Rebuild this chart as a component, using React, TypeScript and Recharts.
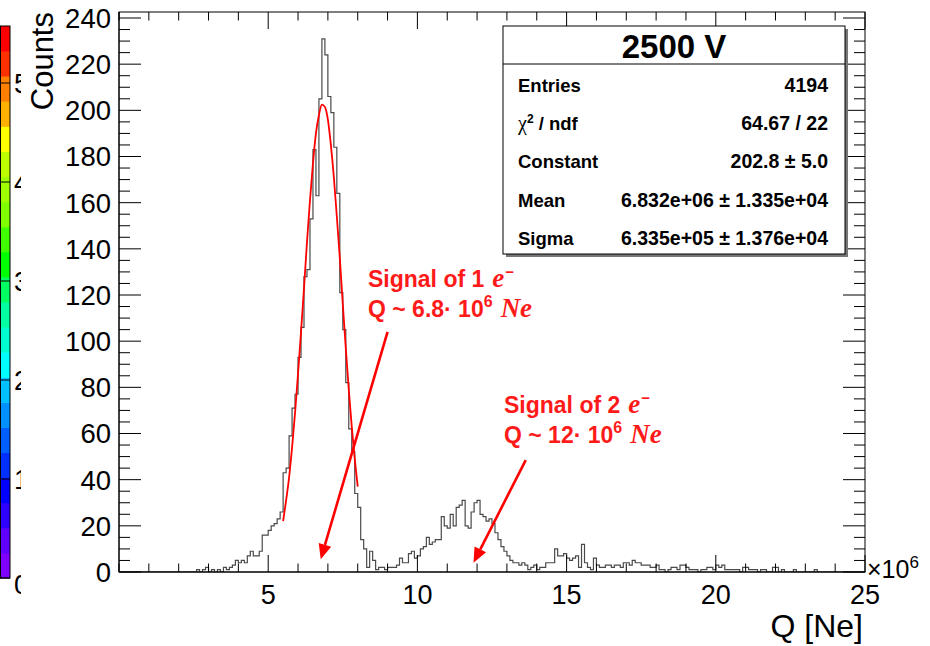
import React from 'react';
import { ComposedChart, Line, XAxis, YAxis, ReferenceLine } from 'recharts';

const W = 930;
const H = 646;
const PLOT_LEFT = 119;
const PLOT_RIGHT = 865;
const PLOT_TOP = 12;
const PLOT_BOTTOM = 572;

const Q_MAX = 25;
const COUNTS_MAX = 242.6;
const BIN_WIDTH = 0.1; // in units of 10^6 Ne

// histogram counts, 250 bins of 0.1e6 Ne from 0 to 25e6
const binCounts = [
  0, 0, 0, 0, 0, 0, 0, 0, 0, 0,
  0, 0, 0, 0, 0, 0, 0, 0, 0, 0,
  0, 0, 0, 0, 0, 0, 1, 0, 1, 2,
  0, 1, 0, 1, 0, 2, 1, 2, 3, 5,
  4, 5, 4, 7, 9, 7, 7, 9, 16, 16,
  18, 20, 21, 23, 26, 43, 45, 59, 71, 77,
  93, 106, 128, 131, 153, 183, 163, 205, 231, 224,
  206, 199, 184, 164, 121, 105, 82, 62, 52, 34,
  28, 14, 10, 2, 9, 5, 1, 2, 2, 1,
  2, 2, 2, 3, 6, 4, 4, 8, 9, 6,
  7, 10, 11, 15, 12, 13, 14, 14, 24, 20,
  19, 25, 20, 28, 29, 31, 20, 19, 26, 30,
  31, 25, 24, 22, 23, 21, 17, 14, 11, 9,
  7, 5, 4, 4, 3, 4, 3, 1, 2, 3,
  1, 2, 2, 4, 4, 4, 10, 7, 7, 8,
  6, 5, 6, 7, 2, 12, 4, 2, 1, 6,
  3, 2, 2, 3, 3, 2, 3, 3, 2, 4,
  4, 3, 5, 4, 4, 3, 3, 3, 2, 2,
  3, 1, 1, 0, 1, 2, 2, 1, 3, 3,
  2, 1, 1, 1, 0, 1, 1, 2, 2, 1,
  3, 2, 3, 1, 1, 1, 1, 1, 0, 2,
  2, 1, 1, 1, 0, 1, 1, 0, 0, 2,
  2, 0, 1, 0, 0, 0, 1, 0, 0, 0,
  0, 0, 0, 1, 0, 0, 0, 0, 0, 0,
  0, 0, 0, 0, 0, 0, 0, 0, 0, 0,
];

// gaus fit curve
const fitQ = [5.5, 5.6, 5.7, 5.8, 5.9, 6.0, 6.1, 6.2, 6.3, 6.4, 6.5, 6.6, 6.7, 6.8, 6.9, 7.0, 7.1, 7.2, 7.3, 7.4, 7.5, 7.6, 7.7, 7.8, 7.9, 8.0];
const fitCounts = [22, 31, 41, 54, 69, 86, 104, 123, 143, 161, 177, 190, 198, 202.5, 201.5, 196, 185, 171, 154, 136, 116, 97, 79, 63, 49, 37];

const xMajorTicks = [5, 10, 15, 20, 25];
const yMajorTicks = [0, 20, 40, 60, 80, 100, 120, 140, 160, 180, 200, 220, 240];
const paletteLabels = ['0', '1', '2', '3', '4', '5'];

const statsTitle = '2500 V';
const statsRows = [
  { label: 'Entries', value: '4194' },
  { label: 'chi', value: '64.67 / 22' },
  { label: 'Constant', value: '202.8 \u00b1 5.0' },
  { label: 'Mean', value: '6.832e+06 \u00b1 1.335e+04' },
  { label: 'Sigma', value: '6.335e+05 \u00b1 1.376e+04' },
];

const arrows = [
  { from: { q: 9.0, counts: 104 }, to: { q: 6.76, counts: 5.5 } },
  { from: { q: 13.63, counts: 48.5 }, to: { q: 11.88, counts: 4 } },
];

// rainbow palette, bottom to top
const paletteColors = [
  '#8000ff', '#6000ff', '#3000ff', '#0000ff', '#0030ff', '#0060ff', '#0090ff', '#00c0ff',
  '#00ffff', '#00ffd0', '#00ffa0', '#00ff60', '#00ff00', '#40ff00', '#80ff00', '#a0ff00',
  '#c0ff00', '#ffff00', '#ffb000', '#ff8000', '#ff3000', '#ff0000',
];

const xTicks = Array.from({ length: Q_MAX + 1 }, (_, i) => i);
const yTicks = Array.from({ length: 49 }, (_, i) => i * 5);

const histData = binCounts.map((c, i) => ({ q: +(i * BIN_WIDTH).toFixed(1), counts: c }));
histData.push({ q: Q_MAX, counts: binCounts[binCounts.length - 1] });
const fitData = fitQ.map((q, i) => ({ q, counts: fitCounts[i] }));

const FONT = '"Liberation Sans", Arial, Helvetica, sans-serif';
const SERIF = '"Liberation Serif", "DejaVu Serif", serif';

const XTick = (props: any) => {
  const { x, payload } = props;
  const v = payload.value;
  const major = xMajorTicks.includes(v);
  const len = major ? 17 : 8.5;
  return (
    <g>
      <line x1={x} x2={x} y1={PLOT_BOTTOM} y2={PLOT_BOTTOM - len} stroke="#000" strokeWidth={1} />
      <line x1={x} x2={x} y1={PLOT_TOP} y2={PLOT_TOP + len} stroke="#000" strokeWidth={1} />
      {major && (
        <text x={x} y={PLOT_BOTTOM + 32} textAnchor="middle" fontFamily={FONT} fontSize={27} fill="#000">
          {v}
        </text>
      )}
    </g>
  );
};

const YTick = (props: any) => {
  const { y, payload } = props;
  const v = payload.value;
  const major = yMajorTicks.includes(v);
  const len = major ? 22 : 11;
  return (
    <g>
      <line x1={PLOT_LEFT} x2={PLOT_LEFT + len} y1={y} y2={y} stroke="#000" strokeWidth={1} />
      <line x1={PLOT_RIGHT - len} x2={PLOT_RIGHT} y1={y} y2={y} stroke="#000" strokeWidth={1} />
      {major && (
        <text x={PLOT_LEFT - 8} y={y} dy="0.36em" textAnchor="end" fontFamily={FONT} fontSize={27.5} fill="#000">
          {v}
        </text>
      )}
    </g>
  );
};

const renderArrow = (props: any) => {
  const { x1, y1, x2, y2 } = props;
  const dx = x2 - x1;
  const dy = y2 - y1;
  const len = Math.sqrt(dx * dx + dy * dy);
  const ux = dx / len;
  const uy = dy / len;
  const head = 15;
  const half = 6.5;
  const bx = x2 - ux * head;
  const by = y2 - uy * head;
  return (
    <g>
      <line x1={x1} y1={y1} x2={bx} y2={by} stroke="#ff0000" strokeWidth={2.6} />
      <polygon
        points={`${x2},${y2} ${bx - uy * half},${by + ux * half} ${bx + uy * half},${by - ux * half}`}
        fill="#ff0000"
      />
    </g>
  );
};

const ColorBar = () => {
  const top = 26;
  const bottom = 578;
  const band = (bottom - top) / paletteColors.length;
  const unit = 99;
  return (
    <g>
      <defs>
        <clipPath id="palClip">
          <rect x={0} y={0} width={21} height={H} />
        </clipPath>
      </defs>
      {paletteColors.map((c, i) => (
        <rect key={c} x={0} y={bottom - (i + 1) * band} width={10} height={band + 0.5} fill={c} />
      ))}
      <rect x={0.5} y={top} width={9.5} height={bottom - top} fill="none" stroke="#000" strokeWidth={1} />
      {paletteLabels.map((l, i) => (
        <g key={l}>
          <line x1={0} x2={10} y1={bottom - i * unit} y2={bottom - i * unit} stroke="#000" strokeWidth={1} />
          <text
            x={14}
            y={bottom - i * unit + (i === 0 ? 6 : 0)}
            dy="0.36em"
            fontFamily={FONT}
            fontSize={27}
            fill="#000"
            clipPath="url(#palClip)"
          >
            {l}
          </text>
        </g>
      ))}
    </g>
  );
};

const StatsBox = () => {
  const left = 503;
  const right = 845;
  const top = 26;
  const bottom = 254;
  const sep = 64;
  const rowY = [91.5, 130, 168, 206.5, 244.5];
  return (
    <g>
      <rect x={left + 3} y={top + 3} width={right - left} height={bottom - top} fill="#777" />
      <rect x={left} y={top} width={right - left} height={bottom - top} fill="#fff" stroke="#000" strokeWidth={1} />
      <line x1={left} x2={right} y1={sep} y2={sep} stroke="#000" strokeWidth={1} />
      <text x={(left + right) / 2} y={58} textAnchor="middle" fontFamily={FONT} fontWeight="bold" fontSize={33} fill="#000">
        {statsTitle}
      </text>
      {statsRows.map((r, i) => (
        <g key={r.label}>
          <text x={518} y={rowY[i]} fontFamily={FONT} fontWeight="bold" fontSize={18.5} fill="#000">
            {r.label === 'chi' ? (
              <>
                <tspan fontFamily={SERIF} fontWeight="normal" fontSize={20}>{'\u03c7'}</tspan>
                <tspan dy={-7} fontSize={12}>2</tspan>
                <tspan dy={7}> / ndf</tspan>
              </>
            ) : (
              r.label
            )}
          </text>
          <text x={828} y={rowY[i]} textAnchor="end" fontFamily={FONT} fontWeight="bold" fontSize={19.5} fill="#000">
            {r.value}
          </text>
        </g>
      ))}
    </g>
  );
};

const SignalNote = ({ x, y, n, q }: { x: number; y: number; n: string; q: string }) => (
  <g fill="#ff1a1a" fontFamily={FONT} fontWeight="bold" fontSize={23}>
    <text x={x} y={y}>
      {`Signal of ${n}`}
      <tspan dx={8} fontFamily={SERIF} fontStyle="italic" fontSize={27}>e</tspan>
      <tspan dx={1} dy={-10} fontSize={15}>{'\u2212'}</tspan>
    </text>
    <text x={x} y={y + 30}>
      {`Q ~ ${q}\u00b7 10`}
      <tspan dy={-10} fontSize={16}>6</tspan>
      <tspan dx={8} dy={10} fontFamily={SERIF} fontStyle="italic" fontSize={27}>Ne</tspan>
    </text>
  </g>
);

export default function App() {
  return (
    <div style={{ position: 'fixed', left: 0, top: 0, width: W, height: H, background: '#fff' }}>
      <ComposedChart
        width={W}
        height={H}
        margin={{ top: PLOT_TOP, right: W - PLOT_RIGHT, bottom: 0, left: 0 }}
      >
        <XAxis
          dataKey="q"
          type="number"
          domain={[0, Q_MAX]}
          ticks={xTicks}
          interval={0}
          height={H - PLOT_BOTTOM}
          tickSize={0}
          tickMargin={0}
          tickLine={false}
          axisLine={{ stroke: '#000' }}
          tick={<XTick />}
          allowDataOverflow
        />
        <YAxis
          type="number"
          domain={[0, COUNTS_MAX]}
          ticks={yTicks}
          interval={0}
          width={PLOT_LEFT}
          tickSize={0}
          tickMargin={0}
          tickLine={false}
          axisLine={{ stroke: '#000' }}
          tick={<YTick />}
          allowDataOverflow
        />
        <Line
          data={histData}
          dataKey="counts"
          type="stepAfter"
          stroke="#4a4a4a"
          strokeWidth={1.2}
          dot={false}
          activeDot={false}
          isAnimationActive={false}
        />
        <Line
          data={fitData}
          dataKey="counts"
          type="monotone"
          stroke="#ff0000"
          strokeWidth={1.8}
          dot={false}
          activeDot={false}
          isAnimationActive={false}
        />
        {arrows.map((a, i) => (
          <ReferenceLine
            key={i}
            segment={[
              { x: a.from.q, y: a.from.counts },
              { x: a.to.q, y: a.to.counts },
            ]}
            ifOverflow="visible"
            shape={renderArrow}
          />
        ))}
      </ComposedChart>
      <svg width={W} height={H} style={{ position: 'absolute', left: 0, top: 0, pointerEvents: 'none' }}>
        <ColorBar />
        <rect
          x={PLOT_LEFT}
          y={PLOT_TOP}
          width={PLOT_RIGHT - PLOT_LEFT}
          height={PLOT_BOTTOM - PLOT_TOP}
          fill="none"
          stroke="#000"
          strokeWidth={1}
        />
        <text
          transform={`translate(53, ${PLOT_TOP}) rotate(-90)`}
          textAnchor="end"
          fontFamily={FONT}
          fontSize={31}
          fill="#000"
        >
          Counts
        </text>
        <text x={PLOT_RIGHT - 2} y={637} textAnchor="end" fontFamily={FONT} fontSize={32} fill="#000">
          Q [Ne]
        </text>
        <text x={867} y={578} fontFamily={FONT} fontSize={25} fill="#000">
          {'\u00d710'}
          <tspan dy={-10} fontSize={17}>6</tspan>
        </text>
        <StatsBox />
        <SignalNote x={368} y={287} n="1" q="6.8" />
        <SignalNote x={504} y={413} n="2" q="12" />
      </svg>
    </div>
  );
}
